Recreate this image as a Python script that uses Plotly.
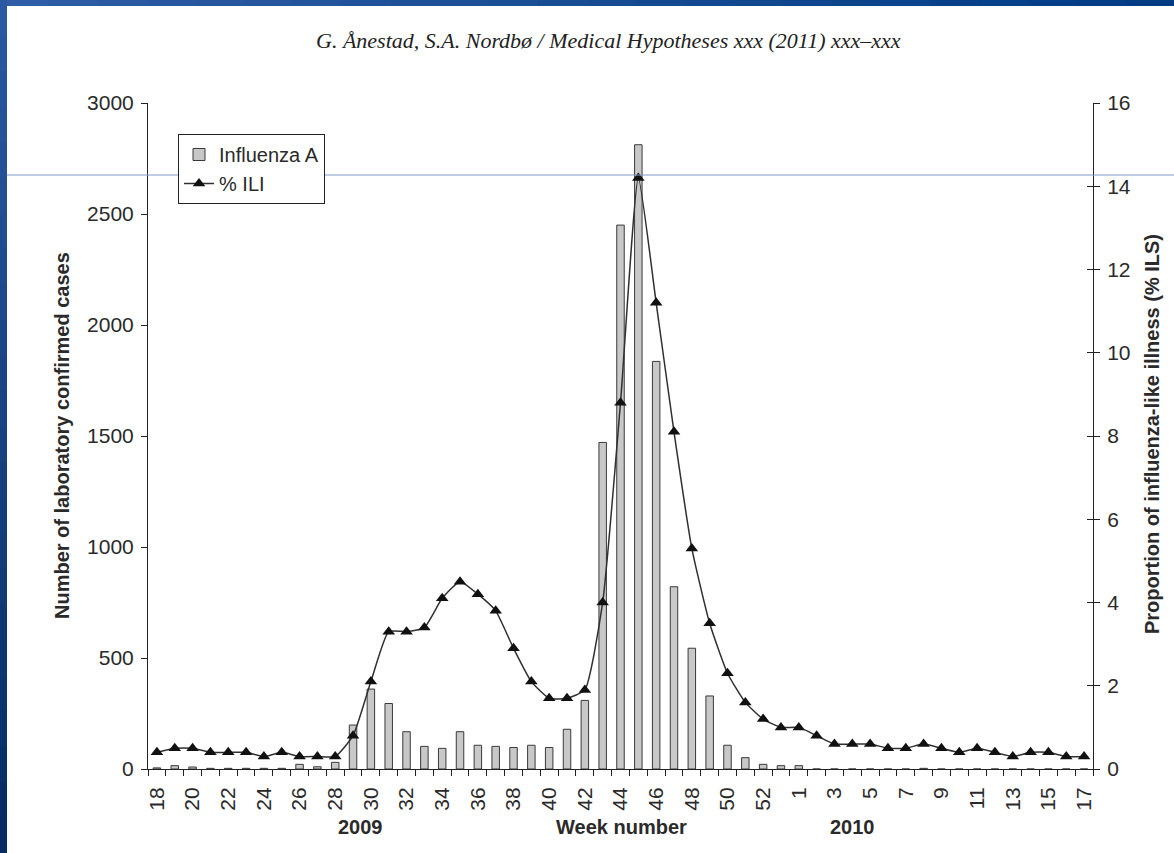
import plotly.graph_objects as go

# ---------------- data ----------------
weeks_2009 = list(range(18, 54))
weeks_2010 = list(range(1, 18))
week_labels = [str(w) for w in weeks_2009 + weeks_2010]

influenza_a = [5, 15, 9, 3, 3, 3, 3, 3, 21, 10, 30, 198, 360, 295, 168, 102, 93, 168,
               107, 102, 97, 107, 97, 179, 309, 1471, 2450, 2812, 1836, 821, 544, 329,
               107, 51, 21, 15,
               15, 0, 0, 0, 0, 0, 0, 3, 0, 0, 0, 0, 0, 0, 0, 0, 0]

ili_pct = [0.4, 0.5, 0.5, 0.4, 0.4, 0.4, 0.3, 0.4, 0.3, 0.3, 0.3, 0.8, 2.1, 3.3, 3.3, 3.4,
           4.1, 4.5, 4.2, 3.8, 2.9, 2.1, 1.7, 1.7, 1.9, 4.0, 8.8, 14.2, 11.2, 8.1, 5.3, 3.5,
           2.3, 1.6, 1.2, 1.0,
           1.0, 0.8, 0.6, 0.6, 0.6, 0.5, 0.5, 0.6, 0.5, 0.4, 0.5, 0.4, 0.3, 0.4, 0.4, 0.3, 0.3]

year_labels = ["2009", "Week number", "2010"]
header = "G. Ånestad, S.A. Nordbø / Medical Hypotheses xxx (2011) xxx–xxx"

# ---------------- geometry ----------------
W, H = 1174, 853
L, R, T, B = 148, 1093, 103, 769  # plot area in pixels


def px2x(px):
    return (px - L) / (R - L)


def py2y(py):
    return (B - py) / (B - T)


xpos = list(range(len(week_labels)))
FONT = "Liberation Sans, Arial, sans-serif"
TXT = "#2a2a2a"
TS = 21

fig = go.Figure()
fig.add_trace(go.Bar(
    x=xpos, y=influenza_a, name="Influenza A", width=0.42,
    marker=dict(color="#c8c8c8", line=dict(color="#3a3a3a", width=1)),
    yaxis="y",
))
fig.add_trace(go.Scatter(
    x=xpos, y=ili_pct, name="% ILI", mode="lines+markers", yaxis="y2",
    line=dict(color="#303030", width=1.5, shape="spline", smoothing=0.5),
    marker=dict(symbol="triangle-up", size=11, color="#111111"),
))

label_idx = xpos[::2]
fig.update_layout(
    width=W, height=H,
    margin=dict(l=L, r=W - R, t=T, b=H - B),
    paper_bgcolor="white", plot_bgcolor="rgba(0,0,0,0)",
    font=dict(family=FONT, size=TS, color=TXT),
    xaxis=dict(
        range=[-0.5, len(xpos) - 0.5],
        tickmode="array", tickvals=label_idx,
        ticktext=[week_labels[i] for i in label_idx],
        tickangle=-90, ticks="outside", ticklen=6, tickcolor="rgba(0,0,0,0)",
        ticklabelstandoff=3,
        minor=dict(tickmode="array", tickvals=[i - 0.5 for i in range(len(xpos) + 1)],
                   ticks="outside", ticklen=6, tickcolor="#222", tickwidth=1),
        showline=True, linecolor="#222", linewidth=1,
        showgrid=False, zeroline=False,
        tickfont=dict(size=TS, color=TXT),
    ),
    yaxis=dict(
        range=[0, 3000], dtick=500, ticks="outside", ticklen=6, ticklabelstandoff=3,
        tickcolor="#222", showline=True, linecolor="#222", linewidth=1,
        showgrid=False, zeroline=False, tickfont=dict(size=TS, color=TXT),
    ),
    yaxis2=dict(
        range=[0, 16], dtick=2, overlaying="y", side="right",
        ticks="outside", ticklen=6, tickcolor="#222", ticklabelstandoff=3,
        showline=True, linecolor="#222", linewidth=1,
        showgrid=False, zeroline=False, tickfont=dict(size=TS, color=TXT),
    ),
    yaxis3=dict(
        range=[0, 16], dtick=2, overlaying="y", side="right",
        ticks="inside", ticklen=6, tickcolor="#222",
        showticklabels=False, showline=False, showgrid=False, zeroline=False,
    ),
    legend=dict(
        x=px2x(178), y=py2y(134), xanchor="left", yanchor="top",
        bgcolor="white", bordercolor="#222", borderwidth=1,
        font=dict(size=20, color=TXT), tracegroupgap=0,
        itemwidth=30,
    ),
    showlegend=True,
)

# invisible helper trace so the inner-tick axis is drawn
fig.add_trace(go.Scatter(x=[], y=[], yaxis="y3", showlegend=False))

ann = dict(xref="paper", yref="paper", showarrow=False, xanchor="center", yanchor="middle")
fig.add_annotation(x=px2x(62), y=py2y(436),
                   text="<b>Number of laboratory confirmed cases</b>", textangle=-90,
                   font=dict(size=20, color=TXT), **ann)
fig.add_annotation(x=px2x(1152), y=py2y(434),
                   text="<b>Proportion of influenza-like illness (% ILS)</b>", textangle=-90,
                   font=dict(size=20, color=TXT), **ann)
for txt, cx in zip(year_labels, [360, 621, 852]):
    fig.add_annotation(x=px2x(cx), y=py2y(827), text=f"<b>{txt}</b>",
                       font=dict(size=20, color=TXT), **ann)

fig.add_annotation(x=px2x(608), y=py2y(40), text=f"<i>{header}</i>",
                   font=dict(family="Liberation Serif, serif", size=22, color="#222"), **ann)

# slide frame decorations (blue gradient strips and thin rule)
shapes = []
n = 24
for i in range(n):
    t = i / (n - 1)
    c = (int(0x2e + (0x00 - 0x2e) * t), int(0x5c + (0x3c - 0x5c) * t), int(0xa6 + (0x84 - 0xa6) * t))
    shapes.append(dict(type="rect", xref="paper", yref="paper", layer="above",
                       x0=px2x(W * i / n), x1=px2x(W * (i + 1) / n + 1),
                       y0=py2y(6), y1=py2y(0), line=dict(width=0),
                       fillcolor=f"rgb{c}"))
    c2 = (int(0x2a + (0x06 - 0x2a) * t), int(0x58 + (0x2c - 0x58) * t), int(0xa2 + (0x62 - 0xa2) * t))
    shapes.append(dict(type="rect", xref="paper", yref="paper", layer="above",
                       x0=px2x(0), x1=px2x(7),
                       y0=py2y(H * (i + 1) / n + 1), y1=py2y(H * i / n),
                       line=dict(width=0), fillcolor=f"rgb{c2}"))
shapes.append(dict(type="line", xref="paper", yref="paper", layer="above",
                   x0=px2x(7), x1=px2x(W), y0=py2y(175), y1=py2y(175),
                   line=dict(color="#7e9bc8", width=1)))
fig.update_layout(shapes=shapes)

fig.write_html("out.html", config={"displayModeBar": False},
               post_script="document.body.style.margin='0px';document.body.style.overflow='hidden';")
